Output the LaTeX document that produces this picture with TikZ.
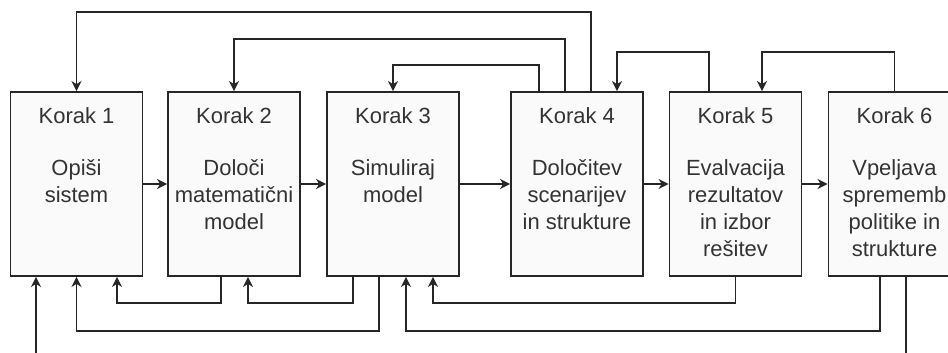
\documentclass[tikz,border=0pt]{standalone}
\usepackage{fontspec}
\setmainfont{Liberation Sans}
\usepackage{tikz}
\usetikzlibrary{arrows.meta, positioning}

\begin{document}
\begin{tikzpicture}[
    box/.style={draw=black!85, line width=1pt, fill=black!2, minimum width=2.64cm, minimum height=3.68cm, inner sep=0pt},
    txt/.style={anchor=north, inner sep=0pt, align=center, text=black!80, font=\fontsize{12.5}{15.4}\selectfont},
    arr/.style={draw=black!85, line width=1pt, -{Stealth[length=5.8pt, width=5.8pt]}},
]
    \useasboundingbox (0,0) rectangle (18.96,7.04);

    \node[box] (k1) at (1.53, 3.36) {};
    \node[box] (k2) at (4.68, 3.36) {};
    \node[box] (k3) at (7.86, 3.36) {};
    \node[box] (k4) at (11.54, 3.36) {};
    \node[box] (k5) at (14.71, 3.36) {};
    \node[box] (k6) at (17.89, 3.36) {};

    \node[txt] (t1) at ([yshift=-0.32cm]k1.north) {Korak 1\\[14.2pt]Opiši\\sistem};
    \node[txt] (t2) at ([yshift=-0.32cm]k2.north) {Korak 2\\[14.2pt]Določi\\matematični\\model};
    \node[txt] (t3) at ([yshift=-0.32cm]k3.north) {Korak 3\\[14.2pt]Simuliraj\\model};
    \node[txt] (t4) at ([yshift=-0.32cm]k4.north) {Korak 4\\[14.2pt]Določitev\\scenarijev\\in strukture};
    \node[txt] (t5) at ([yshift=-0.32cm]k5.north) {Korak 5\\[14.2pt]Evalvacija\\rezultatov\\in izbor\\rešitev};
    \node[txt] (t6) at ([yshift=-0.32cm]k6.north) {Korak 6\\[14.2pt]Vpeljava\\sprememb\\politike in\\strukture};

    \draw[arr] (k1) -- (k2);
    \draw[arr] (k2) -- (k3);
    \draw[arr] (k3) -- (k4);
    \draw[arr] (k4) -- (k5);
    \draw[arr] (k5) -- (k6);

    \draw[arr] ([xshift=0.28cm]k4.north) -- ++(0,1.58) -| (k1.north);
    \draw[arr] ([xshift=-0.24cm]k4.north) -- ++(0,1.04) -| (k2.north);
    \draw[arr] ([xshift=-0.76cm]k4.north) -- ++(0,0.52) -| (k3.north);
    \draw[arr] ([xshift=-0.53cm]k5.north) -- ++(0,0.78) -| ([xshift=0.8cm]k4.north);
    \draw[arr] (k6.north) -- ++(0,0.78) -| ([xshift=0.53cm]k5.north);

    \draw[arr] ([xshift=-0.26cm]k2.south) -- ++(0,-0.52) -| ([xshift=0.81cm]k1.south);
    \draw[arr] ([xshift=-0.28cm]k3.south) -- ++(0,-1.08) -| (k1.south);
    \draw[arr] ([xshift=-0.8cm]k3.south) -- ++(0,-0.52) -| ([xshift=0.28cm]k2.south);
    \draw[arr] (k5.south) -- ++(0,-0.52) -| ([xshift=0.8cm]k3.south);
    \draw[arr] ([xshift=-0.29cm]k6.south) -- ++(0,-1.08) -| ([xshift=0.26cm]k3.south);
    \draw[arr] ([xshift=0.23cm]k6.south) -- ++(0,-1.82) -| ([xshift=-0.81cm]k1.south);
\end{tikzpicture}
\end{document}
